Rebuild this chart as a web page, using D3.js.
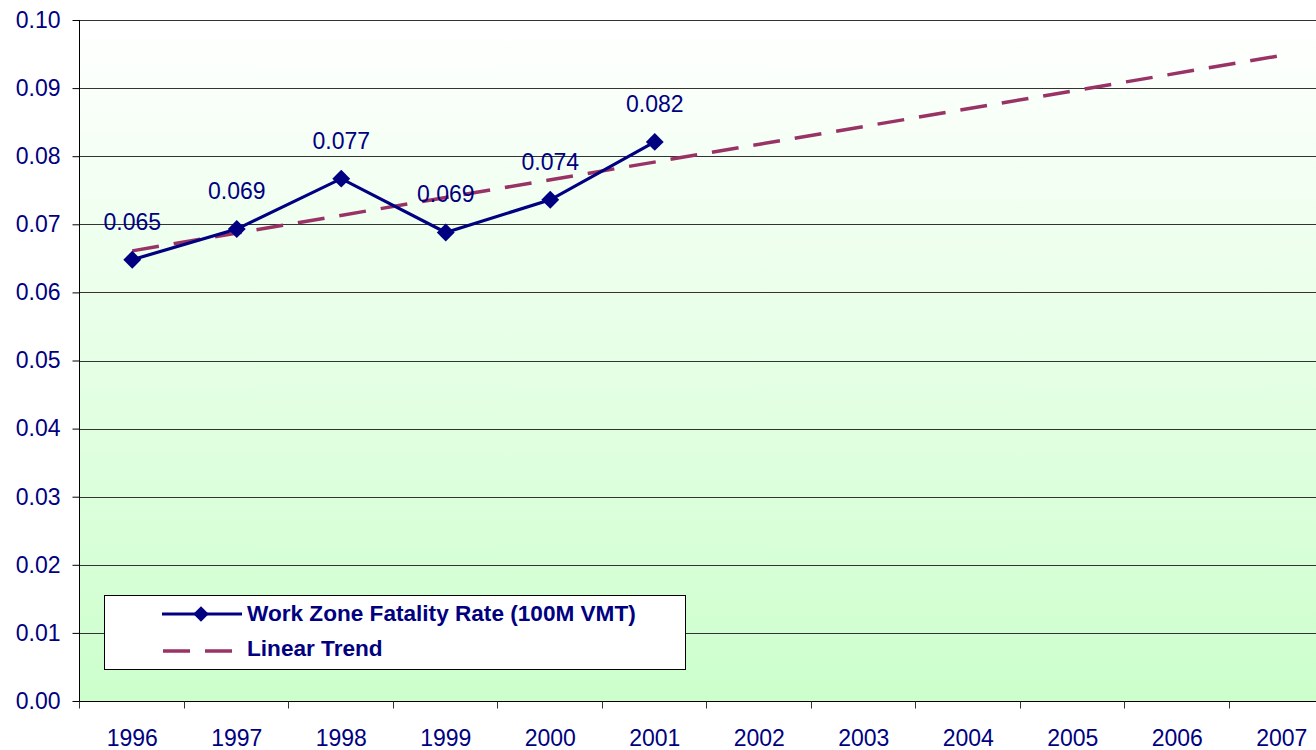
<!DOCTYPE html>
<html>
<head>
<meta charset="utf-8">
<script src="https://cdn.jsdelivr.net/npm/d3@7"></script>
<style>
  html, body { margin: 0; padding: 0; background: #ffffff; }
  svg { display: block; }
  text { font-family: "Liberation Sans", Arial, sans-serif; }
</style>
</head>
<body>
<svg id="chart" width="1316" height="750"></svg>
<script>
// Work zone fatality rate per 100 million vehicle-miles travelled
const years = ["1996", "1997", "1998", "1999", "2000", "2001", "2002", "2003", "2004", "2005", "2006", "2007"];
const rateYears = ["1996", "1997", "1998", "1999", "2000", "2001"];
const rateValues = [0.0648, 0.0693, 0.0767, 0.0688, 0.0736, 0.0821];
const trendYears = ["1996", "2007"];
const trendValues = [0.0661, 0.0948];
const yTicks = [0, 0.01, 0.02, 0.03, 0.04, 0.05, 0.06, 0.07, 0.08, 0.09, 0.10];
const seriesNames = ["Work Zone Fatality Rate (100M VMT)", "Linear Trend"];

const navy = "#000080";
const trendColor = "#993366";
const fontSize = 23;

const svg = d3.select("#chart");
const W = 1316, H = 750;
const plot = { left: 80, top: 20, bottom: 701, right: 1334 };

const x = d3.scaleBand().domain(years).range([plot.left, plot.right]).paddingInner(0).paddingOuter(0);
const y = d3.scaleLinear().domain([0, 0.10]).range([plot.bottom, plot.top]);
const cx = d => x(d) + x.bandwidth() / 2;

// Background gradient: white at top fading to pale green at the axis
const defs = svg.append("defs");
const grad = defs.append("linearGradient").attr("id", "bg").attr("x1", 0).attr("y1", 0).attr("x2", 0).attr("y2", 1);
grad.append("stop").attr("offset", "0%").attr("stop-color", "#ffffff");
grad.append("stop").attr("offset", "100%").attr("stop-color", "#ccffcc");

svg.append("rect")
  .attr("x", plot.left).attr("y", plot.top)
  .attr("width", W - plot.left).attr("height", plot.bottom - plot.top)
  .attr("fill", "url(#bg)");

// Horizontal gridlines
svg.append("g").selectAll("line").data(yTicks.slice(1)).join("line")
  .attr("x1", plot.left).attr("x2", W)
  .attr("y1", d => Math.round(y(d)) + 0.5).attr("y2", d => Math.round(y(d)) + 0.5)
  .attr("stroke", "#333333").attr("stroke-width", 1);

// Y axis
const yAxis = d3.axisLeft(y).tickValues(yTicks).tickFormat(d3.format(".2f")).tickSize(7).tickPadding(12);
const gy = svg.append("g").attr("transform", `translate(${plot.left - 0.5},0)`).call(yAxis);
gy.select(".domain").attr("stroke", "#000").attr("d", `M0,${plot.top}V${plot.bottom}`);
gy.selectAll(".tick line").attr("stroke", "#000");
gy.selectAll(".tick text").attr("fill", navy).attr("font-size", fontSize)
  .attr("font-family", "'Liberation Sans', Arial, sans-serif");

// X axis: tick marks sit on category boundaries, labels centred in each band
const gx = svg.append("g").attr("transform", `translate(0,${plot.bottom + 0.5})`);
gx.append("line").attr("x1", plot.left - 7).attr("x2", W).attr("y1", 0).attr("y2", 0).attr("stroke", "#000");
const boundaries = years.map(d => x(d));
gx.selectAll("line.tk").data(boundaries).join("line").attr("class", "tk")
  .attr("x1", d => Math.round(d) - 0.5).attr("x2", d => Math.round(d) - 0.5)
  .attr("y1", 0).attr("y2", 7).attr("stroke", "#333");
gx.selectAll("text").data(years).join("text")
  .attr("x", d => cx(d)).attr("y", 44)
  .attr("text-anchor", "middle").attr("fill", navy).attr("font-size", fontSize)
  .text(d => d);

// Linear trend (dashed)
const line = d3.line().x(d => cx(d[0])).y(d => y(d[1]));
svg.append("path")
  .datum(trendYears.map((d, i) => [d, trendValues[i]]))
  .attr("d", line)
  .attr("fill", "none").attr("stroke", trendColor).attr("stroke-width", 3.5)
  .attr("stroke-dasharray", "27,15");

// Fatality rate series
const pts = rateYears.map((d, i) => [d, rateValues[i]]);
svg.append("path").datum(pts).attr("d", line)
  .attr("fill", "none").attr("stroke", navy).attr("stroke-width", 3.2);

const diamond = d3.symbol().type(d3.symbolSquare).size(160);
svg.append("g").selectAll("path").data(pts).join("path")
  .attr("d", diamond)
  .attr("transform", d => `translate(${cx(d[0])},${y(d[1])}) rotate(45)`)
  .attr("fill", navy);

// Value labels
svg.append("g").selectAll("text").data(pts).join("text")
  .attr("x", d => cx(d[0])).attr("y", d => y(d[1]) - 30)
  .attr("text-anchor", "middle").attr("fill", navy).attr("font-size", fontSize)
  .text(d => d3.format(".3f")(d[1]));

// Legend
const lg = svg.append("g");
lg.append("rect").attr("x", 104.5).attr("y", 595.5).attr("width", 581).attr("height", 74)
  .attr("fill", "#ffffff").attr("stroke", "#000").attr("stroke-width", 1);
lg.append("line").attr("x1", 162).attr("x2", 242).attr("y1", 614).attr("y2", 614)
  .attr("stroke", navy).attr("stroke-width", 3.2);
lg.append("path").attr("d", d3.symbol().type(d3.symbolSquare).size(120))
  .attr("transform", "translate(201,614) rotate(45)").attr("fill", navy);
lg.append("line").attr("x1", 163).attr("x2", 242).attr("y1", 651).attr("y2", 651)
  .attr("stroke", trendColor).attr("stroke-width", 3.5).attr("stroke-dasharray", "27,15");
lg.selectAll("text.lbl").data(seriesNames).join("text").attr("class", "lbl")
  .attr("x", 247).attr("y", (d, i) => 621 + i * 35)
  .attr("fill", navy).attr("font-size", 22.6).attr("font-weight", "bold")
  .text(d => d);
</script>
</body>
</html>
